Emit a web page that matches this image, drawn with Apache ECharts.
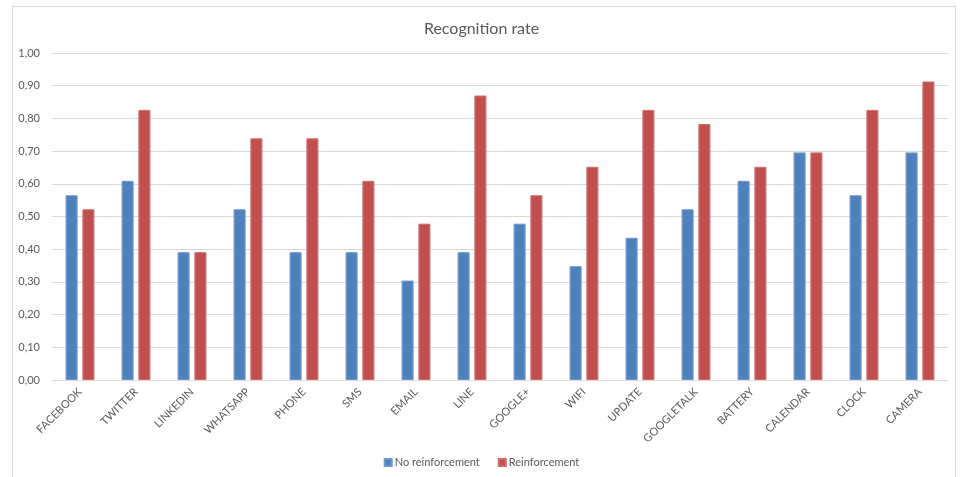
<!DOCTYPE html>
<html>
<head>
<meta charset="utf-8">
<script src="https://cdn.jsdelivr.net/npm/echarts@6/dist/echarts.min.js"></script>
<style>
	html, body { margin: 0; padding: 0; background: #fff; }
	#chart { width: 963px; height: 477px; }
</style>
</head>
<body>
<div id="chart"></div>
<script>
	var categories = ["FACEBOOK", "TWITTER", "LINKEDIN", "WHATSAPP", "PHONE", "SMS", "EMAIL", "LINE",
		"GOOGLE+", "WIFI", "UPDATE", "GOOGLETALK", "BATTERY", "CALENDAR", "CLOCK", "CAMERA"];
	var noReinforcement = [0.565, 0.609, 0.391, 0.522, 0.391, 0.391, 0.304, 0.391,
		0.478, 0.348, 0.435, 0.522, 0.609, 0.696, 0.565, 0.696];
	var reinforcement = [0.522, 0.826, 0.391, 0.739, 0.739, 0.609, 0.478, 0.870,
		0.565, 0.652, 0.826, 0.783, 0.652, 0.696, 0.826, 0.913];
	var seriesNames = ["No reinforcement", "Reinforcement"];

	var font = "Lato, 'Liberation Sans', sans-serif";
	var textColor = "#595959";

	var option = {
		animation: false,
		backgroundColor: "#fff",
		textStyle: { fontFamily: font },
		title: {
			text: "Recognition rate",
			left: "center",
			top: 16,
			textStyle: { fontFamily: font, fontSize: 16, fontWeight: "normal", color: textColor }
		},
		legend: {
			data: seriesNames,
			bottom: 4,
			left: "center",
			itemWidth: 7,
			itemHeight: 7,
			itemGap: 18,
			icon: "rect",
			textStyle: { fontFamily: font, fontSize: 11, color: textColor, padding: [0, 0, 0, -2] }
		},
		grid: {
			left: 52,
			right: 15,
			top: 53,
			bottom: 97
		},
		graphic: [{
			type: "rect",
			shape: { x: 12.5, y: 6.5, width: 943, height: 480 },
			style: { fill: "none", stroke: "#d9d9d9", lineWidth: 1 },
			silent: true
		}],
		xAxis: [{
			type: "category",
			data: categories,
			axisLine: { lineStyle: { color: "#d9d9d9" } },
			axisTick: { show: false },
			axisLabel: { rotate: 45, fontSize: 11, color: textColor, margin: 10, fontFamily: font, interval: 0 }
		}],
		yAxis: [{
			type: "value",
			min: 0,
			max: 1,
			interval: 0.1,
			axisLine: { show: false },
			axisTick: { show: false },
			splitLine: { lineStyle: { color: "#d9d9d9" } },
			axisLabel: {
				fontSize: 11,
				color: textColor,
				margin: 12,
				fontFamily: font,
				formatter: function(v) { return v.toFixed(2).replace(".", ","); }
			}
		}],
		series: [{
			name: seriesNames[0],
			type: "bar",
			data: noReinforcement,
			barWidth: 12,
			barGap: "40%",
			itemStyle: { color: "#4F81BD", borderColor: "#6d98cc", borderWidth: 1 }
		}, {
			name: seriesNames[1],
			type: "bar",
			data: reinforcement,
			barWidth: 12,
			barGap: "40%",
			itemStyle: { color: "#C0504D", borderColor: "#d06c69", borderWidth: 1 }
		}]
	};

	var myChart = echarts.init(document.getElementById("chart"));
	myChart.setOption(option);
</script>
</body>
</html>
